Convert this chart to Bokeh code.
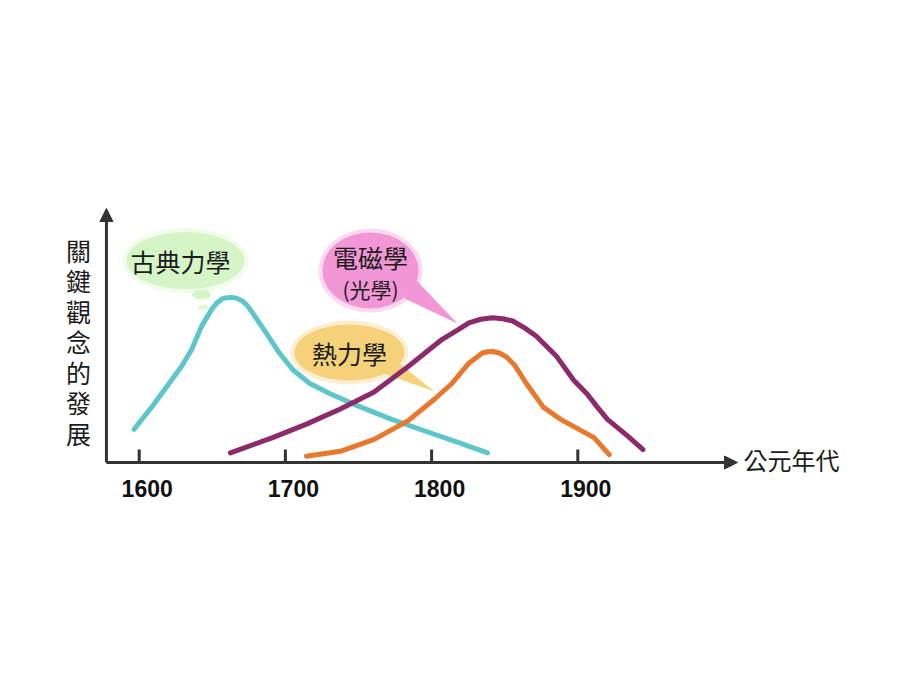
from bokeh.plotting import figure
from bokeh.models import Range1d, Arrow, NormalHead
from bokeh.core.properties import value
from bokeh.embed import file_html
from bokeh.resources import INLINE

# ---------------- data ----------------
classical_years = [1596.5, 1610.3, 1628.8, 1635.8, 1642.7, 1649.7, 1653.1, 1656.6, 1660.1,
                   1663.5, 1667.0, 1670.5, 1674.0, 1677.4, 1686.7, 1695.9, 1705.2, 1716.7,
                   1730.6, 1749.1, 1772.3, 1795.4, 1818.5, 1838.2]
classical_level = [13.1, 23.1, 37.7, 44.4, 53.7, 60.4, 62.8, 64.4, 64.9,
                   65.0, 64.6, 63.7, 61.7, 59.0, 51.1, 43.1, 36.4, 31.1,
                   27.1, 22.4, 17.1, 12.4, 7.8, 3.8]

em_years = [1662.4, 1691.3, 1714.4, 1737.6, 1760.7, 1783.8, 1807.0, 1818.5, 1825.5, 1833.6,
            1841.7, 1848.6, 1855.5, 1863.6, 1871.7, 1885.6, 1897.2, 1906.4, 1913.5, 1920.3,
            1934.2, 1944.6]
em_level = [3.8, 9.8, 15.1, 21.1, 27.8, 37.7, 48.4, 52.4, 55.0, 56.4,
            57.0, 56.6, 55.7, 53.0, 49.7, 41.7, 32.4, 27.0, 21.7, 17.0,
            10.4, 5.1]

thermo_years = [1714.4, 1737.6, 1760.7, 1783.8, 1802.3, 1813.9, 1825.5, 1834.7, 1838.2,
                1841.7, 1846.3, 1850.9, 1856.7, 1864.8, 1876.4, 1887.9, 1911.1, 1921.5]
thermo_level = [2.5, 4.4, 9.1, 16.4, 25.1, 31.1, 39.1, 43.1, 43.6,
                43.7, 43.1, 41.7, 38.4, 31.1, 21.8, 17.1, 9.8, 3.1]

tick_years = [1600, 1700, 1800, 1900]
tick_labels = ["1600", "1700", "1800", "1900"]

# callouts: text, bubble centre (year, level), pointer tip (year, level)
callout_names = ["古典力學", "電磁學", "熱力學"]
callout_sub = ["", "(光學)", ""]
callout_year = [1631.7, 1758.2, 1743.8]
callout_level = [79.5, 75.6, 43.3]
callout_tip_year = [None, 1817.7, 1802.0]
callout_tip_level = [None, 54.7, 28.0]

x_axis_title = "公元年代"
y_axis_title = "關鍵觀念的發展"

# ---------------- layout ----------------
W, H = 920, 690
X0, X1 = 1505.13, 2134.4
Y0, Y1 = -89.76, 181.89
PXY = W / (X1 - X0)   # px per year
PXL = H / (Y1 - Y0)   # px per level unit


def dx(px):
    return px / PXY


def dy(px):
    return -px / PXL


p = figure(width=W, height=H, x_range=Range1d(X0, X1), y_range=Range1d(Y0, Y1),
           x_axis_type=None, y_axis_type=None, toolbar_location=None,
           output_backend="svg", min_border=0)
p.outline_line_color = None
p.background_fill_color = "white"
p.border_fill_color = "white"

CJK = value("Noto Sans CJK TC")
TXT = "#1c1c1c"

green = "#d6f5c6"
pink = "#f396d6"
yellow = "#f5d27a"
fills = [green, pink, yellow]
sizes = [(118, 57), (96, 76), (110, 56)]

# bubble bodies (soft halo + body)
for (cx, cy, f, (w, h)) in zip(callout_year, callout_level, fills, sizes):
    p.ellipse(x=[cx], y=[cy], width=[w + 8], height=[h + 8], width_units="screen",
              height_units="screen", fill_color=f, fill_alpha=0.35, line_color=None)
    p.ellipse(x=[cx], y=[cy], width=[w], height=[h], width_units="screen",
              height_units="screen", fill_color=f, line_color=None)

# thought-bubble dots for the classical mechanics label
p.ellipse(x=[callout_year[0] + dx(16)], y=[callout_level[0] + dy(34)], width=[19], height=[10],
          width_units="screen", height_units="screen", fill_color=green, line_color=None)
p.ellipse(x=[callout_year[0] + dx(18)], y=[callout_level[0] + dy(47)], width=[11], height=[6],
          width_units="screen", height_units="screen", fill_color=green, fill_alpha=0.7,
          line_color=None)

# speech-bubble tails
tail_offsets = [None, [(34, 28), (46, 10)], [(31, 20), (46, 8)]]
for i in (1, 2):
    cx, cy = callout_year[i], callout_level[i]
    (a, b), (c, d) = tail_offsets[i]
    xs = [cx + dx(a), cx + dx(c), callout_tip_year[i]]
    ys = [cy + dy(b), cy + dy(d), callout_tip_level[i]]
    p.patch(xs, ys, fill_color=fills[i], line_color=None)

# curves
LW = 5
p.line(classical_years, classical_level, line_color="#5ec6c8", line_width=LW,
       line_join="round", line_cap="round")
p.line(thermo_years, thermo_level, line_color="#e8792c", line_width=LW,
       line_join="round", line_cap="round")
p.line(em_years, em_level, line_color="#8c2a6b", line_width=LW,
       line_join="round", line_cap="round")

# callout texts
p.text(x=[callout_year[0]], y=[callout_level[0]], text=[callout_names[0]], text_font=CJK,
       text_font_size="25px", text_align="center", text_baseline="middle", text_color=TXT,
       x_offset=-5)
p.text(x=[callout_year[1]], y=[callout_level[1]], text=[callout_names[1]], text_font=CJK,
       text_font_size="25px", text_align="center", text_baseline="middle", text_color=TXT,
       y_offset=-13)
p.text(x=[callout_year[1]], y=[callout_level[1]], text=[callout_sub[1]], text_font=CJK,
       text_font_size="21px", text_align="center", text_baseline="middle", text_color=TXT,
       y_offset=19)
p.text(x=[callout_year[2]], y=[callout_level[2]], text=[callout_names[2]], text_font=CJK,
       text_font_size="25px", text_align="center", text_baseline="middle", text_color=TXT)

# axes with arrows
AX_X = 1577.6
X_TIP = 2009.2
Y_TIP = 100
AX_COL = "#333333"
p.add_layout(Arrow(x_start=AX_X, y_start=0, x_end=X_TIP, y_end=0, line_width=3,
                   line_color=AX_COL,
                   end=NormalHead(size=13, fill_color=AX_COL, line_color=AX_COL)))
p.add_layout(Arrow(x_start=AX_X, y_start=0, x_end=AX_X, y_end=Y_TIP, line_width=3,
                   line_color=AX_COL,
                   end=NormalHead(size=13, fill_color=AX_COL, line_color=AX_COL)))

# ticks and labels
p.segment(x0=tick_years, y0=[0] * 4, x1=tick_years, y1=[dy(-13)] * 4,
          line_width=3, line_color=AX_COL)
p.text(x=tick_years, y=[0] * 4, text=tick_labels, text_font=value("Liberation Sans"),
       text_font_style="bold", text_font_size="23px", text_align="center",
       text_baseline="middle", y_offset=26, x_offset=8, text_color="#111111")

# axis titles
p.text(x=[X_TIP], y=[0], text=[x_axis_title], text_font=CJK, text_font_size="24px",
       text_align="left", text_baseline="middle", x_offset=6, y_offset=-3, text_color=TXT)
chars = list(y_axis_title)
n = len(chars)
STEP = 30.5
p.text(x=[AX_X] * n, y=[47.8] * n, text=chars, text_font=CJK,
       text_font_size="25px", text_align="center", text_baseline="middle",
       x_offset=-28, y_offset=[(i - (n - 1) / 2) * STEP for i in range(n)], text_color=TXT)

open("out.html", "w").write(file_html(p, INLINE))
